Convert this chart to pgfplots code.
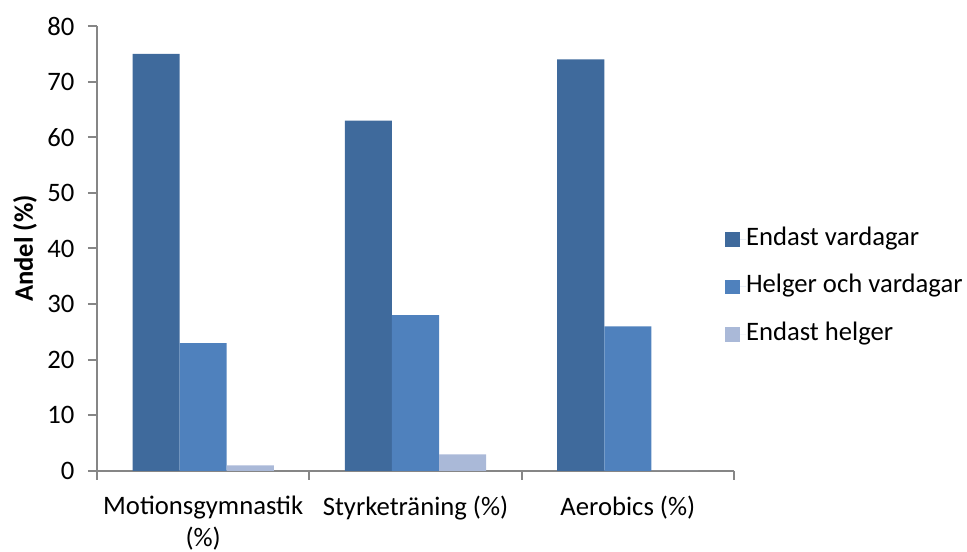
\documentclass[border=0pt]{standalone}
\usepackage{fontspec}
\setmainfont{Carlito}
\usepackage{pgfplots}
\pgfplotsset{compat=1.18}

\definecolor{vardag}{HTML}{3F6A9C}
\definecolor{bada}{HTML}{4F81BD}
\definecolor{helg}{HTML}{AAB9D8}
\definecolor{axisgray}{HTML}{868686}

\newcommand{\chartfont}{\fontsize{20}{23.5}\selectfont}

\begin{document}
\begin{tikzpicture}[x=1pt,y=1pt]
\useasboundingbox (0,0) rectangle (725.25,414);
\begin{axis}[
  at={(72.75pt,60.75pt)}, anchor=south west,
  scale only axis, width=477.75pt, height=333.75pt,
  xmin=-0.5, xmax=2.5, ymin=0, ymax=80,
  axis x line*=bottom, axis y line*=left,
  axis line style={draw=axisgray, line width=1.5pt, -},
  tick style={draw=axisgray, line width=1.5pt},
  tick align=outside, major tick length=6.75pt,
  ytick={0,10,...,80},
  xtick={-0.5,0.5,1.5,2.5}, xticklabels={},
  extra x ticks={0,1,2},
  extra x tick labels={{Motionsgymnastik\\(\%)},{Styrketräning (\%)},{Aerobics (\%)}},
  extra x tick style={major tick length=0pt},
  xticklabel style={align=center, font=\chartfont, yshift=-15.5pt},
  yticklabel style={font=\chartfont, xshift=-6.75pt},
  /pgf/number format/assume math mode=true,
  ylabel={\bfseries Andel (\%)},
  ylabel style={at={(axis description cs:-0.113,0.5)}, anchor=center,
    font=\fontsize{20}{23}\selectfont},
  legend style={at={(axis description cs:0.986,0.4135)}, anchor=west,
    draw=none, fill=none, inner sep=0pt, row sep=18.75pt,
    font=\chartfont,
    nodes={text height=13pt, text depth=4pt, inner sep=0pt}},
  legend cell align=left,
  legend image code/.code={%
    \fill[#1] (0pt,-5.6pt) rectangle (11.25pt,5.6pt);
    \path (0pt,0pt) -- (15.5pt,0pt);},
]
\addplot[ybar, fill=vardag, draw=none, bar width=0.2217, bar shift=-0.2217]
  coordinates {(0,75) (1,63) (2,74)};
\addplot[ybar, fill=bada, draw=none, bar width=0.2217, bar shift=0]
  coordinates {(0,23) (1,28) (2,26)};
\addplot[ybar, fill=helg, draw=none, bar width=0.2217, bar shift=0.2217]
  coordinates {(0,1) (1,3) (2,0)};
\legend{Endast vardagar, Helger och vardagar, Endast helger}
\end{axis}
\end{tikzpicture}
\end{document}
